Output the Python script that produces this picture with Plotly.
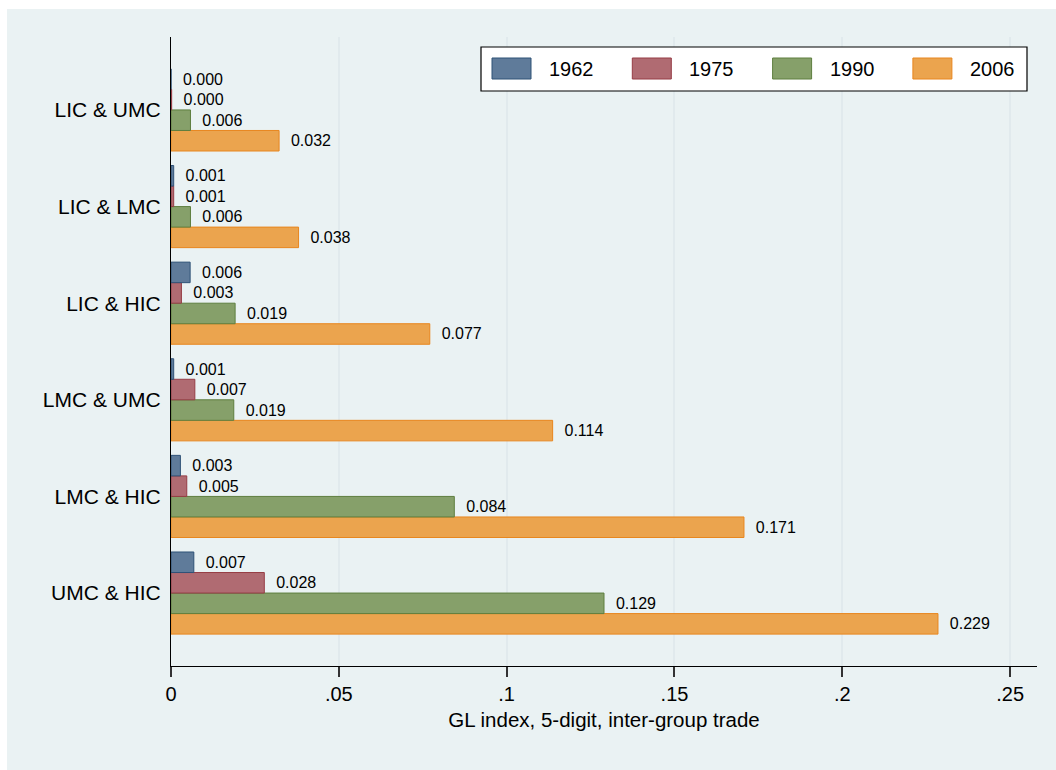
import plotly.graph_objects as go

# ---------------- data ----------------
categories = ["LIC & UMC", "LIC & LMC", "LIC & HIC", "LMC & UMC", "LMC & HIC", "UMC & HIC"]
years = ["1962", "1975", "1990", "2006"]
v1962 = [0.0000, 0.0008, 0.0057, 0.0008, 0.0028, 0.0068]
v1975 = [0.0002, 0.0008, 0.0031, 0.0071, 0.0047, 0.0278]
v1990 = [0.0058, 0.0058, 0.0191, 0.0187, 0.0844, 0.1290]
v2006 = [0.0322, 0.0380, 0.0771, 0.1137, 0.1707, 0.2285]
x_tickvals = [0, 0.05, 0.10, 0.15, 0.20, 0.25]
x_ticktext = ["0", ".05", ".1", ".15", ".2", ".25"]
x_title = "GL index, 5-digit, inter-group trade"

series = {"1962": v1962, "1975": v1975, "1990": v1990, "2006": v2006}
fills = {"1962": "#5F7B9A", "1975": "#B06B72", "1990": "#86A06A", "2006": "#EBA44E"}
lines = {"1962": "#2F5277", "1975": "#963D45", "1990": "#5E7E3F", "2006": "#E8861E"}

FONT = "Liberation Sans, Arial, sans-serif"
W, H = 1056, 770
L, R, T, B = 171, 1037, 37, 666


def xp(px):
    return (px - L) / (R - L)


def yp(py):
    return (B - py) / (B - T)


fig = go.Figure()
# first trace sits lowest within a group for horizontal bars -> add 2006 first
for yr in reversed(years):
    fig.add_trace(go.Bar(
        y=categories, x=series[yr], orientation="h", name=yr,
        marker=dict(color=fills[yr], line=dict(color=lines[yr], width=1)),
        text=series[yr], texttemplate="\u00a0\u00a0%{x:.3f}",
        textposition="outside", constraintext="none", cliponaxis=False,
        textfont=dict(family=FONT, size=16, color="#000000"),
        showlegend=False,
    ))

shapes = []
annotations = []
# outer light background
shapes.append(dict(type="rect", xref="paper", yref="paper", layer="below",
                   x0=xp(7), x1=xp(1056), y0=yp(9), y1=yp(770),
                   fillcolor="#EAF2F3", line=dict(width=0)))
# custom legend box
shapes.append(dict(type="rect", xref="paper", yref="paper",
                   x0=xp(481), x1=xp(1027), y0=yp(47), y1=yp(91),
                   fillcolor="#FFFFFF", line=dict(color="#000000", width=1.2)))
for i, yr in enumerate(years):
    sx = 492 + i * 140.3
    shapes.append(dict(type="rect", xref="paper", yref="paper",
                       x0=xp(sx), x1=xp(sx + 39), y0=yp(58), y1=yp(79),
                       fillcolor=fills[yr], line=dict(color=lines[yr], width=1)))
    annotations.append(dict(xref="paper", yref="paper", x=xp(sx + 55), y=yp(69),
                            xanchor="left", yanchor="middle", showarrow=False,
                            text=yr, font=dict(family=FONT, size=20, color="#000000")))

fig.update_layout(
    width=W, height=H,
    margin=dict(l=L, r=W - R, t=T, b=H - B),
    paper_bgcolor="#FFFFFF", plot_bgcolor="#FFFFFF",
    barmode="group", bargap=0.15, bargroupgap=0,
    font=dict(family=FONT, size=20, color="#000000"),
    shapes=shapes, annotations=annotations,
    showlegend=False,
    xaxis=dict(
        range=[0, 0.258], tickvals=x_tickvals, ticktext=x_ticktext,
        showgrid=True, gridcolor="#E1EAED", gridwidth=1.5, zeroline=False,
        showline=True, linecolor="#000000", linewidth=1.2,
        ticks="outside", ticklen=10, tickwidth=1.5, tickcolor="#333333",
        tickfont=dict(family=FONT, size=20, color="#000000"),
        title=dict(text=x_title, font=dict(family=FONT, size=20.5, color="#000000"), standoff=8),
    ),
    yaxis=dict(
        categoryorder="array", categoryarray=list(reversed(categories)),
        range=[-0.755, 5.755], showgrid=False, zeroline=False,
        showline=True, linecolor="#000000", linewidth=1.2,
        ticks="outside", ticklen=5, tickcolor="rgba(0,0,0,0)",
        tickfont=dict(family=FONT, size=21, color="#000000"),
    ),
)

fig.write_html("out.html")
